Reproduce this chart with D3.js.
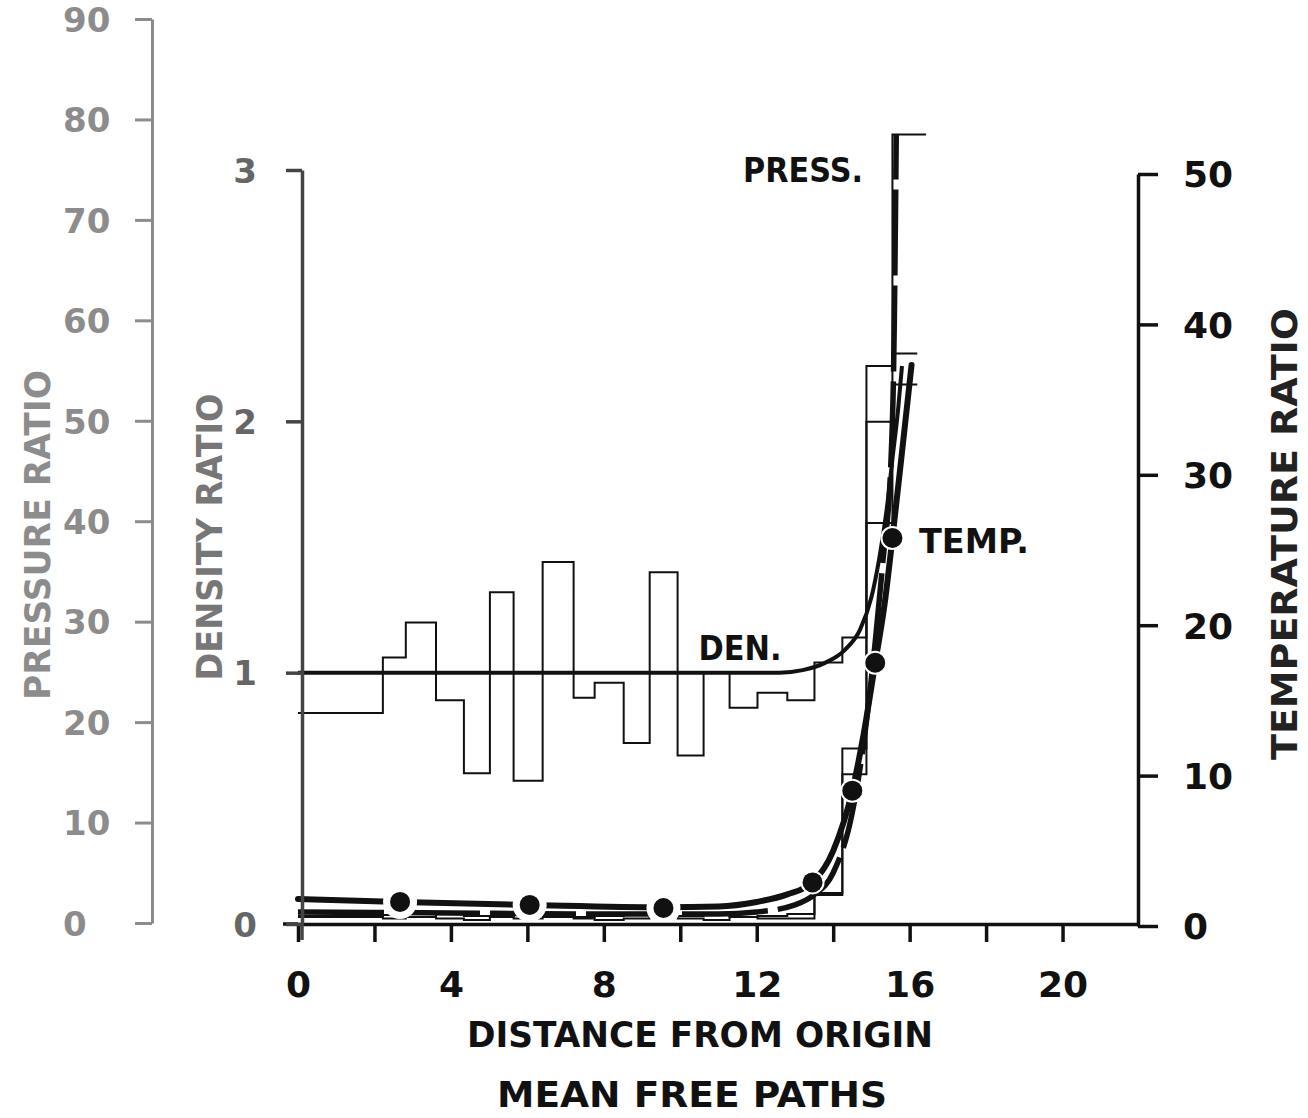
<!DOCTYPE html>
<html>
<head>
<meta charset="utf-8">
<script src="https://cdn.jsdelivr.net/npm/d3@7"></script>
<style>
  body { margin: 0; background: #fff; }
  svg { display: block; }
  .lbl { font-family: "DejaVu Sans", sans-serif; }
</style>
</head>
<body>
<div id="chart"></div>
<script>
// histogram bin edges (mean free paths)
const binEdges = [0, 2.22, 2.82, 3.61, 4.34, 5.02, 5.64, 6.40, 7.21, 7.76, 8.52, 9.20, 9.93,
  10.61, 11.29, 12.02, 12.80, 13.51, 14.24, 14.87, 15.55, 16.20]
const pressBinEnd = 16.43

// histogram values per bin
const densHist = [0.84, 1.06, 1.20, 0.89, 0.60, 1.32, 0.57, 1.44, 0.90, 0.96, 0.72, 1.40, 0.67,
  1.00, 0.86, 0.92, 0.89, 1.04, 1.14, 2.22, 2.27]
const tempHist = [0.6, 0.5, 0.6, 0.5, 0.4, 0.6, 0.5, 0.6, 0.5, 0.4, 0.5, 0.6, 0.5,
  0.4, 0.6, 0.5, 0.5, 2.2, 11.8, 26.8, 36.0]
const pressHist = [0.7, 0.8, 0.6, 0.9, 0.7, 0.6, 0.8, 0.7, 0.6, 0.7, 0.8, 0.6, 0.7,
  0.8, 0.6, 0.7, 0.9, 2.8, 14.8, 49.9, 78.5]

// smooth curves
const densCurveX = [0, 12.6, 13.2, 13.8, 14.3, 14.7, 15.0, 15.2, 15.4, 15.55, 15.7, 15.8]
const densCurveY = [1, 1, 1.01, 1.04, 1.09, 1.17, 1.3, 1.45, 1.65, 1.85, 2.05, 2.22]
const tempCurveX = [0, 2.67, 6.06, 9.56, 11, 12, 12.8, 13.46, 14.0, 14.5, 14.8, 15.1, 15.35, 15.55, 15.8, 16.05]
const tempCurveY = [1.8, 1.6, 1.4, 1.25, 1.3, 1.6, 2.1, 2.9, 5.0, 9.0, 12.8, 17.5, 21.5, 25.8, 31.5, 37.3]
const pressCurveX = [0, 4, 8, 11, 12, 13, 13.5, 14, 14.5, 14.8, 15.1, 15.3, 15.5, 15.6, 15.65]
const pressCurveY = [1.1, 1.0, 0.9, 0.9, 1.1, 1.8, 2.8, 5, 11, 18, 28, 36, 45, 60, 78.5]

// temperature points marked with dots
const tempDotX = [2.67, 6.06, 9.56, 13.46, 14.5, 15.1, 15.55]
const tempDotY = [1.6, 1.4, 1.2, 2.9, 9.0, 17.5, 25.8]

const xTicks = [0, 2, 4, 6, 8, 10, 12, 14, 16, 18, 20]
const densTicks = [0, 1, 2, 3]
const pressTicks = [0, 10, 20, 30, 40, 50, 60, 70, 80, 90]
const tempTicks = [0, 10, 20, 30, 40, 50]

const width = 1308
const height = 1118
const font = '"DejaVu Sans", sans-serif'
const grey = '#8c8c8c'

const svg = d3.select('#chart').append('svg')
  .attr('width', width)
  .attr('height', height)

const x = d3.scaleLinear().domain([0, 22]).range([298, 1139])
const yD = d3.scaleLinear().domain([0, 3]).range([924, 170])
const yP = d3.scaleLinear().domain([0, 90]).range([923, 19])
const yT = d3.scaleLinear().domain([0, 50]).range([926, 174])

function stepPath(edges, vals, y) {
  let p = `M${x(edges[0])},${y(vals[0])}`
  vals.forEach((v, i) => {
    if (i > 0) p += `V${y(v)}`
    p += `H${x(edges[i + 1])}`
  })
  return p
}

// histograms (thin)
const hist = svg.append('g').attr('fill', 'none').attr('stroke', '#111').attr('stroke-width', 2)
hist.append('path').attr('d', stepPath(binEdges, tempHist, yT))
hist.append('path').attr('d', stepPath(binEdges.slice(0, -1).concat([pressBinEnd]), pressHist, yP))
hist.append('path').attr('d', stepPath(binEdges, densHist, yD))

// curves
const pts = (xs, ys) => xs.map((d, i) => [d, ys[i]])

const line = yScale => d3.line()
  .x(d => x(d[0]))
  .y(d => yScale(d[1]))
  .curve(d3.curveMonotoneX)

svg.append('path')
  .attr('d', line(yP)(pts(pressCurveX, pressCurveY)))
  .attr('fill', 'none')
  .attr('stroke', '#111')
  .attr('stroke-width', 5.5)
  .attr('stroke-dasharray', '86,10')

svg.append('path')
  .attr('d', line(yD)(pts(densCurveX, densCurveY)))
  .attr('fill', 'none')
  .attr('stroke', '#111')
  .attr('stroke-width', 4)

svg.append('path')
  .attr('d', line(yT)(pts(tempCurveX, tempCurveY)))
  .attr('fill', 'none')
  .attr('stroke', '#111')
  .attr('stroke-width', 6)
  .attr('stroke-linecap', 'round')

// gaps around the dots, then the dots
const dots = pts(tempDotX, tempDotY)
svg.append('g')
  .selectAll('circle')
  .data(dots)
  .join('circle')
  .attr('cx', d => x(d[0]))
  .attr('cy', d => yT(d[1]))
  .attr('r', (d, i) => i < 3 ? 17 : 12)
  .attr('fill', '#fff')

svg.append('g')
  .selectAll('circle')
  .data(dots)
  .join('circle')
  .attr('cx', d => x(d[0]))
  .attr('cy', d => yT(d[1]))
  .attr('r', 10)
  .attr('fill', '#111')

// x axis
svg.append('line')
  .attr('x1', 283).attr('x2', x(0))
  .attr('y1', yD(0)).attr('y2', yD(0))
  .attr('stroke', '#111').attr('stroke-width', 3.5)

const xAxis = svg.append('g')
  .attr('transform', `translate(0,${yD(0)})`)
  .call(d3.axisBottom(x).tickValues(xTicks).tickSize(18).tickSizeOuter(0)
    .tickFormat(d => d % 4 === 0 ? d : ''))
xAxis.select('.domain').attr('stroke', '#111').attr('stroke-width', 3.5)
xAxis.selectAll('line').attr('stroke', '#111').attr('stroke-width', 3.5)
xAxis.selectAll('text')
  .attr('y', 73).attr('dy', 0)
  .attr('font-family', font).attr('font-weight', 'bold')
  .attr('font-size', 36).attr('fill', '#111')

// pressure axis (grey, far left)
const pAxis = svg.append('g')
  .attr('transform', 'translate(152,0)')
  .call(d3.axisLeft(yP).tickValues(pressTicks).tickSize(17).tickSizeOuter(0))
pAxis.select('.domain').attr('stroke', grey).attr('stroke-width', 3)
pAxis.selectAll('line').attr('stroke', grey).attr('stroke-width', 3)
pAxis.selectAll('text')
  .attr('x', -89).attr('text-anchor', 'start').attr('dy', '0.36em')
  .attr('font-family', font).attr('font-weight', 'bold')
  .attr('font-size', 34).attr('fill', grey)

// density axis
const dAxis = svg.append('g')
  .attr('transform', 'translate(302,0)')
  .call(d3.axisLeft(yD).tickValues(densTicks).tickSize(16).tickSizeOuter(0)
    .tickFormat(d3.format('d')))
dAxis.select('.domain').attr('stroke', '#444').attr('stroke-width', 3.5)
dAxis.selectAll('line').attr('stroke', '#444').attr('stroke-width', 3.5)
dAxis.selectAll('text')
  .attr('x', -57).attr('text-anchor', 'middle').attr('dy', '0.36em')
  .attr('font-family', font).attr('font-weight', 'bold')
  .attr('font-size', 34).attr('fill', '#666')
svg.append('line')
  .attr('x1', 302).attr('x2', 302)
  .attr('y1', yD(0)).attr('y2', 940)
  .attr('stroke', '#444').attr('stroke-width', 3.5)

// temperature axis (right)
const tAxis = svg.append('g')
  .attr('transform', 'translate(1138,0)')
  .call(d3.axisRight(yT).tickValues(tempTicks).tickSize(20).tickSizeOuter(0))
tAxis.select('.domain').attr('stroke', '#111').attr('stroke-width', 3.5)
tAxis.selectAll('line').attr('stroke', '#111').attr('stroke-width', 3.5)
tAxis.selectAll('text')
  .attr('x', 45).attr('dy', '0.36em')
  .attr('font-family', font).attr('font-weight', 'bold')
  .attr('font-size', 36).attr('fill', '#111')

// titles
function label(txt, px, py, len, opts = {}) {
  svg.append('text')
    .attr('class', 'lbl')
    .attr('transform', opts.rotate ? `translate(${px},${py}) rotate(-90)` : `translate(${px},${py})`)
    .attr('text-anchor', 'middle')
    .attr('font-size', opts.size || 36)
    .attr('font-weight', opts.weight || 'bold')
    .attr('fill', opts.color || '#111')
    .attr('textLength', len)
    .attr('lengthAdjust', 'spacingAndGlyphs')
    .text(txt)
}

label('DISTANCE  FROM ORIGIN', 700, 1047, 466)
label('MEAN  FREE  PATHS', 692, 1107, 390)
label('PRESSURE RATIO', 50, 535, 330, { rotate: true, color: grey })
label('DENSITY RATIO', 222, 537, 287, { rotate: true, color: '#777' })
label('TEMPERATURE RATIO', 1297, 534, 452, { rotate: true, color: '#222' })
label('PRESS.', 803, 182, 120, { size: 34 })
label('DEN.', 740, 660, 83, { size: 34 })
label('TEMP.', 974, 553, 110, { size: 34 })
</script>
</body>
</html>
